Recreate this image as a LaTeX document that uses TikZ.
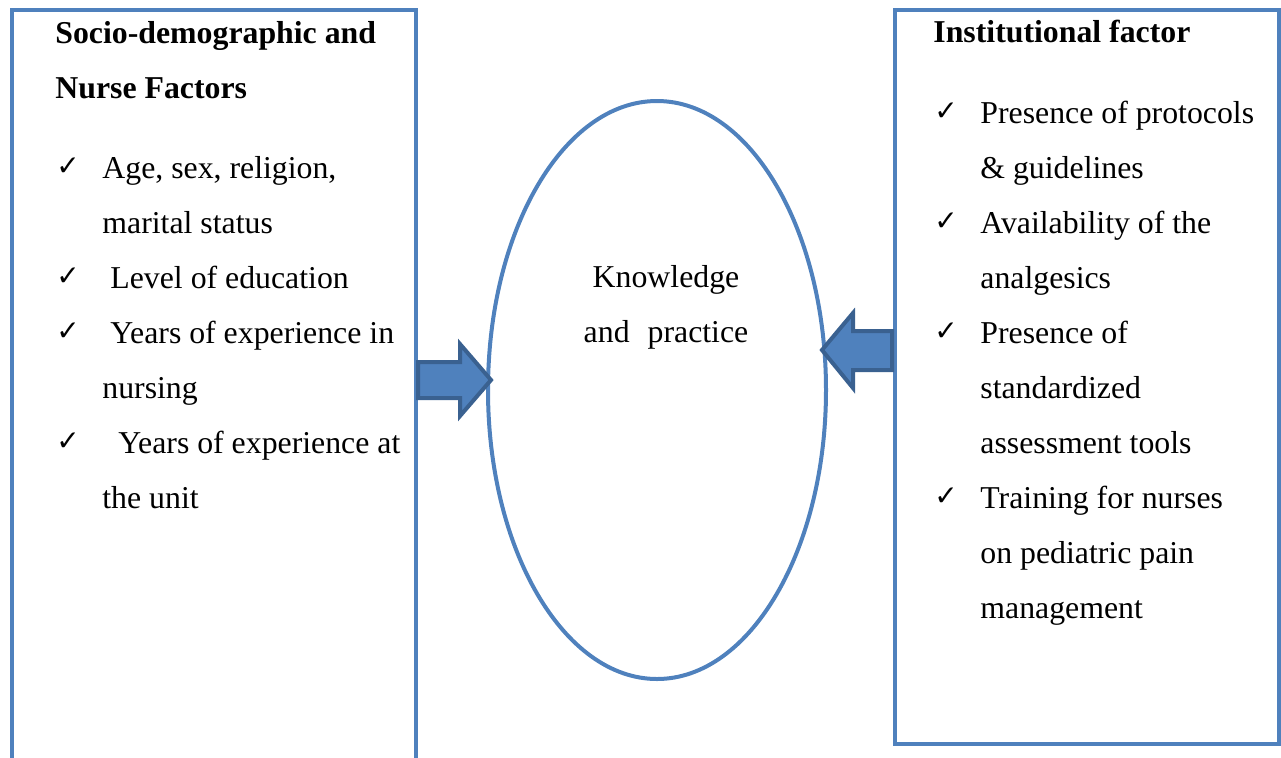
\documentclass[tikz,border=0pt]{standalone}
\usepackage{fontspec}
\setmainfont{Liberation Serif}
\newfontfamily\symfont{DejaVu Sans}
\usetikzlibrary{shapes.geometric}

\definecolor{boxblue}{HTML}{4F81BD}
\definecolor{arrowedge}{HTML}{3A6190}

% tick mark and hanging indent for the factor lists
\newcommand{\chk}{\makebox[23.5pt][l]{\hspace{0.5pt}\raisebox{1.5pt}{\symfont\bfseries\fontsize{14pt}{14pt}\selectfont ✓}}}
\newcommand{\noch}{\hspace*{23.5pt}}

\tikzset{
  factorbox/.style={draw=boxblue, line width=1.9pt},
  blockarrow/.style={fill=boxblue, draw=arrowedge, line width=2pt, line join=miter},
  factortext/.style={anchor=base west, inner sep=0pt,
    font=\fontsize{15.9pt}{27.5pt}\selectfont}
}

\begin{document}
\begin{tikzpicture}[x=0.5pt, y=-0.5pt]
\useasboundingbox (0,0) rectangle (1281,757);
\clip (0,0) rectangle (1281,757);

% the two factor boxes
\draw[factorbox] (12,10) rectangle (416,790);
\draw[factorbox] (895,10) rectangle (1279,744);

\node[factortext] (socio) at (55,43) {\parbox[t]{185pt}{\raggedright
  \textbf{Socio-demographic and}\\
  \textbf{Nurse Factors}\\[12.5pt]
  \chk Age, sex, religion,\\
  \noch marital status\\
  \chk\hspace{4pt}Level of education\\
  \chk\hspace{4pt}Years of experience in\\
  \noch nursing\\
  \chk\hspace{8pt}Years of experience at\\
  \noch the unit}};

\node[factortext] (inst) at (933,42) {\parbox[t]{175pt}{\raggedright
  \textbf{Institutional factor}\\[13pt]
  \chk Presence of protocols\\
  \noch \& guidelines\\
  \chk Availability of the\\
  \noch analgesics\\
  \chk Presence of\\
  \noch standardized\\
  \noch assessment tools\\
  \chk Training for nurses\\
  \noch on pediatric pain\\
  \noch management}};

% outcome in the middle
\node[draw=boxblue, line width=2pt, ellipse, inner sep=0pt,
  minimum width=169pt, minimum height=289pt] (kp) at (657,390) {};
\node[factortext, anchor=base] (kptext) at (666,287) {\parbox[t]{90pt}{\centering
  Knowledge\\
  and\hspace{9pt}practice}};

% block arrows into the ellipse
\coordinate (ltip) at (491,380);
\coordinate (rtip) at (822,350);
\draw[blockarrow] (ltip) -- ++(-31,-36) -- ++(0,18) -- ++(-42,0) -- ++(0,36)
  -- ++(42,0) -- ++(0,18) -- cycle;
\draw[blockarrow] (rtip) -- ++(31,-37) -- ++(0,18) -- ++(39,0) -- ++(0,39)
  -- ++(-39,0) -- ++(0,18) -- cycle;
\end{tikzpicture}
\end{document}
